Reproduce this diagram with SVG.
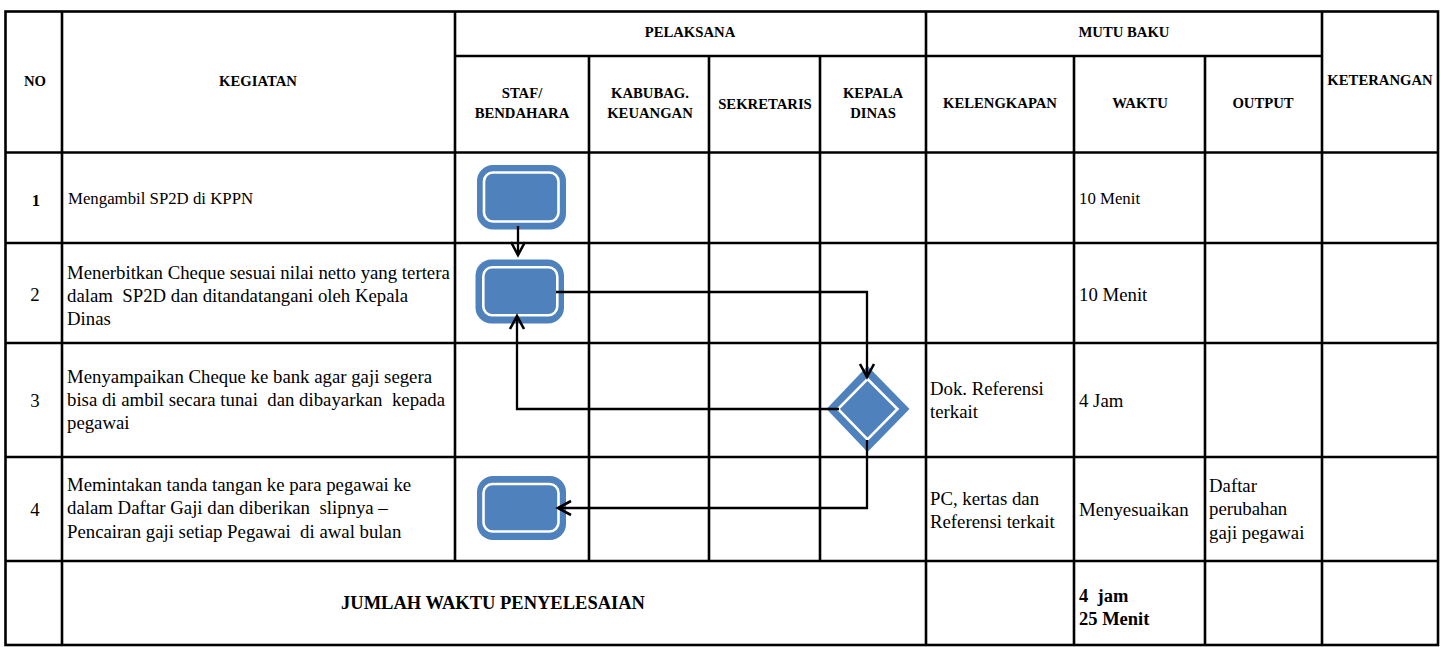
<svg xmlns="http://www.w3.org/2000/svg" width="1441" height="647" viewBox="0 0 1441 647">
<style>
.g{stroke:#000;stroke-width:2.6;fill:none}
.h{font-family:"Liberation Serif","Times New Roman",serif;font-weight:bold;font-size:14.7px;fill:#000;text-anchor:middle}
.t{font-family:"Liberation Serif","Times New Roman",serif;font-size:18.8px;fill:#000}
.t1{font-family:"Liberation Serif","Times New Roman",serif;font-size:16.8px;fill:#000}
.b{font-family:"Liberation Serif","Times New Roman",serif;font-weight:bold;font-size:18.5px;fill:#000}
.c{stroke:#000;stroke-width:2.3;fill:none}
.sh{fill:#4F81BD}
.si{fill:#4F81BD;stroke:#fff;stroke-width:2.6}
</style>
<defs>
<marker id="arr" markerUnits="userSpaceOnUse" markerWidth="24" markerHeight="24" viewBox="-16 -12 24 24" refX="0" refY="0" orient="auto" overflow="visible">
<path d="M-13,-7 L0,0 L-13,7" fill="none" stroke="#000" stroke-width="2.6"/>
</marker>
</defs>
<rect width="1441" height="647" fill="#fff"/>
<g id="grid">
<rect class="g" x="5.5" y="11.5" width="1432.5" height="633.5"/>
<line class="g" x1="455" y1="56" x2="1322" y2="56"/>
<line class="g" x1="5.5" y1="152.5" x2="1438" y2="152.5"/>
<line class="g" x1="5.5" y1="243" x2="1438" y2="243"/>
<line class="g" x1="5.5" y1="343" x2="1438" y2="343"/>
<line class="g" x1="5.5" y1="457" x2="1438" y2="457"/>
<line class="g" x1="5.5" y1="561" x2="1438" y2="561"/>
<line class="g" x1="62" y1="11.5" x2="62" y2="645"/>
<line class="g" x1="455" y1="11.5" x2="455" y2="561"/>
<line class="g" x1="589" y1="56" x2="589" y2="561"/>
<line class="g" x1="709" y1="56" x2="709" y2="561"/>
<line class="g" x1="820" y1="56" x2="820" y2="561"/>
<line class="g" x1="926" y1="11.5" x2="926" y2="645"/>
<line class="g" x1="1074" y1="56" x2="1074" y2="645"/>
<line class="g" x1="1205" y1="56" x2="1205" y2="645"/>
<line class="g" x1="1322" y1="11.5" x2="1322" y2="645"/>
</g>
<g id="header">
<text class="h" x="35" y="86">NO</text>
<text class="h" x="258" y="86">KEGIATAN</text>
<text class="h" x="690" y="37">PELAKSANA</text>
<text class="h" x="1124" y="37">MUTU BAKU</text>
<text class="h" x="1380" y="85">KETERANGAN</text>
<text class="h" x="522" y="98">STAF/</text>
<text class="h" x="522" y="118">BENDAHARA</text>
<text class="h" x="650" y="98">KABUBAG.</text>
<text class="h" x="650" y="118">KEUANGAN</text>
<text class="h" x="765" y="109">SEKRETARIS</text>
<text class="h" x="873" y="98">KEPALA</text>
<text class="h" x="873" y="118">DINAS</text>
<text class="h" x="1000" y="108">KELENGKAPAN</text>
<text class="h" x="1140" y="108">WAKTU</text>
<text class="h" x="1263" y="108">OUTPUT</text>
</g>
<g id="row1">
<text class="t1" x="36" y="206" text-anchor="middle" font-weight="bold">1</text>
<text class="t1" x="68" y="204">Mengambil SP2D di KPPN</text>
<text class="t1" x="1079" y="204">10 Menit</text>
</g>
<g id="row2">
<text class="t" x="35" y="301" text-anchor="middle">2</text>
<text class="t" x="67" y="279">Menerbitkan Cheque sesuai nilai netto yang tertera</text>
<text class="t" x="67" y="302" xml:space="preserve">dalam  SP2D dan ditandatangani oleh Kepala</text>
<text class="t" x="67" y="325">Dinas</text>
<text class="t" x="1079" y="301">10 Menit</text>
</g>
<g id="row3">
<text class="t" x="35" y="407" text-anchor="middle">3</text>
<text class="t" x="67" y="383">Menyampaikan Cheque ke bank agar gaji segera</text>
<text class="t" x="67" y="406" xml:space="preserve">bisa di ambil secara tunai  dan dibayarkan  kepada</text>
<text class="t" x="67" y="429">pegawai</text>
<text class="t" x="930" y="395">Dok. Referensi</text>
<text class="t" x="930" y="418">terkait</text>
<text class="t" x="1079" y="407">4 Jam</text>
</g>
<g id="row4">
<text class="t" x="35" y="516" text-anchor="middle">4</text>
<text class="t" x="67" y="491">Memintakan tanda tangan ke para pegawai ke</text>
<text class="t" x="67" y="514" xml:space="preserve">dalam Daftar Gaji dan diberikan  slipnya –</text>
<text class="t" x="67" y="538" xml:space="preserve">Pencairan gaji setiap Pegawai  di awal bulan</text>
<text class="t" x="930" y="505">PC, kertas dan</text>
<text class="t" x="930" y="528">Referensi terkait</text>
<text class="t" x="1079" y="516">Menyesuaikan</text>
<text class="t" x="1209" y="492">Daftar</text>
<text class="t" x="1209" y="515">perubahan</text>
<text class="t" x="1209" y="539">gaji pegawai</text>
</g>
<g id="total">
<text class="b" x="493" y="609" text-anchor="middle">JUMLAH WAKTU PENYELESAIAN</text>
<text class="b" x="1079" y="602" xml:space="preserve">4  jam</text>
<text class="b" x="1079" y="625">25 Menit</text>
</g>
<g id="node1">
<rect class="sh" x="477" y="165" width="89" height="64.5" rx="16"/>
<rect class="si" x="484" y="172.5" width="74.5" height="49" rx="9"/>
</g>
<g id="node2">
<rect class="sh" x="475.5" y="259.5" width="88.5" height="64" rx="16"/>
<rect class="si" x="483.3" y="267.3" width="74" height="48" rx="9"/>
</g>
<g id="node3">
<polygon class="sh" points="867.5,366 909.5,409 867.5,452 826.5,409"/>
<polygon class="si" points="867.5,379 897.5,409 867.5,439.5 838,409"/>
</g>
<g id="node4">
<rect class="sh" x="477" y="476" width="89" height="64" rx="16"/>
<rect class="si" x="483.5" y="484" width="75" height="47.5" rx="9"/>
</g>
<g id="connectors">
<path class="c" d="M518,226 V255" marker-end="url(#arr)"/>
<path class="c" d="M556,292 H867 V377" marker-end="url(#arr)"/>
<path class="c" d="M839,409 H517 V316" marker-end="url(#arr)"/>
<path class="c" d="M867,440 V508 H558" marker-end="url(#arr)"/>
</g>
</svg>
